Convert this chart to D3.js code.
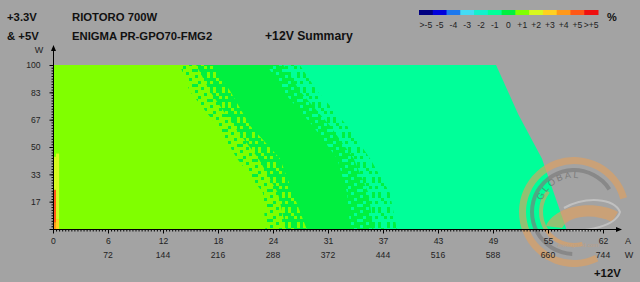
<!DOCTYPE html>
<html>
<head>
<meta charset="utf-8">
<script src="https://cdn.jsdelivr.net/npm/d3@7"></script>
<style>
  body { margin: 0; background: #a3a3a3; }
  svg { display: block; }
</style>
</head>
<body>
<div class="chart"></div>
<script>
// +12V axis tick labels (amps on top row, watts below)
var ampLabels = ["0", "6", "12", "18", "24", "31", "37", "43", "49", "55", "62"];
var wattLabels = ["", "72", "144", "216", "288", "372", "444", "516", "588", "660", "744"];
// +3.3V & +5V axis
var minorLabels = ["", "17", "33", "50", "67", "83", "100"];

// legend: deviation classes (%)
var devLabels = [">-5", "-5", "-4", "-3", "-2", "-1", "0", "+1", "+2", "+3", "+4", "+5", ">+5"];
var devColors = ["#000080", "#0000dc", "#1c78ee", "#44dcf4", "#14f0cc", "#00ff99", "#00f040",
                 "#80ff00", "#d8f820", "#ffd020", "#ff9818", "#ff5818", "#f01010"];

// zone boundaries read per row (row = +3.3V&+5V load, values = +12V load in W)
var rowLoad       = [0,   22,  43,  63,  84,  100];
var plusOneEnd    = [278, 275, 241, 215, 179, 166];
var zeroStart     = [332, 314, 297, 258, 232, 209];
var zeroEnd       = [389, 385, 372, 340, 301, 280];
var minusOneStart = [450, 441, 415, 385, 346, 323];

// max +12V load per row (combined power limit)
var envLoad = [0,   43,  70,  100];
var envMax  = [672, 640, 609, 580];

// hot cells at near-zero +12V load
var hotCol  = [0, 0, 0, 4, 4];
var hotFrom = [0, 4, 24, 0, 6];
var hotTo   = [4, 24, 44, 6, 46];
var hotDev  = ["+4", "+5", "+2", "+3", "+2"];

var width = 640, height = 282;
var colorOf = d3.scaleOrdinal().domain(devLabels).range(devColors);

var x = d3.scaleLinear().domain([0, 720]).range([53, 603]);
var y = d3.scaleLinear().domain([0, 100]).range([229, 65]);

var svg = d3.select('.chart').append('svg')
    .attr('width', width)
    .attr('height', height);

svg.append('rect')
    .attr('width', width)
    .attr('height', height)
    .attr('fill', '#a3a3a3');

// dither patterns for the transition bands
var defs = svg.append('defs');
var sparseCells = [[0, 0], [3, 1], [1, 2], [4, 3], [2, 4], [0, 3]];
var denseCells = [[1, 0], [4, 0], [2, 1], [0, 2], [3, 2], [1, 4], [4, 4]];
function dither(id, base, dot, cells) {
  var p = defs.append('pattern')
      .attr('id', id)
      .attr('patternUnits', 'userSpaceOnUse')
      .attr('width', 15).attr('height', 15);
  p.append('rect').attr('width', 15).attr('height', 15).attr('fill', base);
  cells.forEach(function(c) {
    p.append('rect')
        .attr('x', c[0] * 3).attr('y', c[1] * 3)
        .attr('width', 3).attr('height', 3)
        .attr('fill', dot);
  });
}
dither('a1', colorOf('+1'), colorOf('0'), sparseCells);
dither('a2', colorOf('0'), colorOf('+1'), denseCells);
dither('b1', colorOf('0'), colorOf('-1'), sparseCells);
dither('b2', colorOf('-1'), colorOf('0'), denseCells);

var rows = rowLoad.map(function(l, i) {
  return {load: l, p1: plusOneEnd[i], z0: zeroStart[i], z1: zeroEnd[i], m1: minusOneStart[i]};
});
var env = envLoad.map(function(l, i) { return {load: l, max: envMax[i]}; });

function zone(hi) {
  return d3.area()
    .y(function(d) { return y(d.load); })
    .x0(x(0))
    .x1(function(d) { return x(hi(d)); });
}

var heat = svg.append('g');
heat.append('path').attr('d', zone(function(d) { return d.max; })(env)).attr('fill', colorOf('-1'));
heat.append('path').attr('d', zone(function(d) { return d.m1; })(rows)).attr('fill', 'url(#b2)');
heat.append('path').attr('d', zone(function(d) { return (d.z1 + d.m1) / 2; })(rows)).attr('fill', 'url(#b1)');
heat.append('path').attr('d', zone(function(d) { return d.z1; })(rows)).attr('fill', colorOf('0'));
heat.append('path').attr('d', zone(function(d) { return d.z0; })(rows)).attr('fill', 'url(#a2)');
heat.append('path').attr('d', zone(function(d) { return (d.p1 + d.z0) / 2; })(rows)).attr('fill', 'url(#a1)');
heat.append('path').attr('d', zone(function(d) { return d.p1; })(rows)).attr('fill', colorOf('+1'));

heat.selectAll('.hot')
  .data(hotCol)
  .enter().append('rect')
    .attr('class', 'hot')
    .attr('x', function(d) { return x(d); })
    .attr('width', x(4) - x(0))
    .attr('y', function(d, i) { return y(hotTo[i]); })
    .attr('height', function(d, i) { return y(hotFrom[i]) - y(hotTo[i]); })
    .attr('fill', function(d, i) { return colorOf(hotDev[i]); });

// watermark
var wm = svg.append('g')
    .attr('transform', 'translate(574, 212)')
    .attr('opacity', 0.65);
wm.append('path')
    .attr('d', d3.arc().innerRadius(48).outerRadius(55).startAngle(-3.6).endAngle(1.3)())
    .attr('fill', '#e0a060');
wm.append('path')
    .attr('d', d3.arc().innerRadius(40).outerRadius(44).startAngle(-3.1).endAngle(1.0)())
    .attr('fill', '#7a7a7a');
wm.append('path')
    .attr('d', d3.arc().innerRadius(31).outerRadius(35).startAngle(-3.4).endAngle(-0.9)())
    .attr('fill', '#e0a060');
wm.append('path')
    .attr('id', 'wmArc')
    .attr('d', 'M -34,0 A 34,34 0 0,1 22,-26')
    .attr('fill', 'none');
wm.append('text')
    .attr('font-family', 'Liberation Sans, Arial, sans-serif')
    .attr('font-size', 9)
    .attr('letter-spacing', 2)
    .attr('fill', '#666')
  .append('textPath')
    .attr('href', '#wmArc')
    .attr('startOffset', '15%')
    .text('GLOBAL');
wm.append('path')
    .attr('d', 'M -28,14 C -18,-8 22,-12 44,0 L 38,10 C 22,2 -4,2 -12,16 Z')
    .attr('fill', '#e0a060');
wm.append('path')
    .attr('d', 'M -10,-4 C 12,-16 40,-14 46,0 C 42,14 12,20 -4,18')
    .attr('fill', 'none')
    .attr('stroke', '#d0d0d0')
    .attr('stroke-width', 2);
wm.append('text')
    .attr('x', 4).attr('y', 35)
    .attr('text-anchor', 'middle')
    .attr('font-family', 'Liberation Sans, Arial, sans-serif')
    .attr('font-size', 6)
    .attr('fill', '#c8a07a')
    .text('www.gecid.com');

// axes
var labelFont = 'Liberation Sans, Arial, sans-serif';
var axisG = svg.append('g').attr('font-family', labelFont);

var xMinor = d3.axisBottom(x).tickValues(d3.range(0, 721, 4)).tickSize(2).tickFormat('');
var xMajor = d3.axisBottom(x).tickValues(d3.range(0, 721, 72)).tickSize(4)
    .tickFormat(function(d, i) { return ampLabels[i]; });

axisG.append('g').attr('transform', 'translate(0,' + (y(0) + 0.5) + ')').call(xMinor);
var gx = axisG.append('g').attr('transform', 'translate(0,' + (y(0) + 0.5) + ')').call(xMajor);
gx.selectAll('text').attr('y', 8).attr('font-size', 8.6).attr('fill', '#222');

axisG.selectAll('.wlabel')
  .data(wattLabels)
  .enter().append('text')
    .attr('class', 'wlabel')
    .attr('x', function(d, i) { return x(i * 72); })
    .attr('y', 258)
    .attr('text-anchor', 'middle')
    .attr('font-size', 8.6)
    .attr('fill', '#222')
    .text(function(d) { return d; });

var yMinor = d3.axisLeft(y).tickValues(d3.range(0, 100.1, 100 / 60)).tickSize(2).tickFormat('');
var yMajor = d3.axisLeft(y).tickValues(d3.range(0, 7).map(function(i) { return i * 100 / 6; }))
    .tickSize(4)
    .tickFormat(function(d, i) { return minorLabels[i]; });

axisG.append('g').attr('transform', 'translate(53.5,0)').call(yMinor);
var gy = axisG.append('g').attr('transform', 'translate(53.5,0)').call(yMajor);
gy.selectAll('text').attr('x', -13).attr('font-size', 8.6).attr('fill', '#222');
axisG.selectAll('.domain').remove();

// axis lines with arrows
axisG.append('line')
    .attr('x1', 53.5).attr('x2', 53.5).attr('y1', y(0) + 0.5).attr('y2', 47)
    .attr('stroke', '#000');
axisG.append('path').attr('d', 'M 53.5,45 L 51,51 L 56,51 Z').attr('fill', '#000');
axisG.append('line')
    .attr('x1', 53).attr('x2', 620).attr('y1', y(0) + 0.5).attr('y2', y(0) + 0.5)
    .attr('stroke', '#000');
axisG.append('path')
    .attr('d', 'M 622,' + (y(0) + 0.5) + ' L 616,' + (y(0) - 2) + ' L 616,' + (y(0) + 3) + ' Z')
    .attr('fill', '#000');

// unit labels
axisG.append('text').attr('x', 39).attr('y', 53).attr('text-anchor', 'middle')
    .attr('font-size', 9).attr('fill', '#222').text('W');
axisG.append('text').attr('x', 628).attr('y', 244).attr('text-anchor', 'middle')
    .attr('font-size', 9).attr('fill', '#222').text('A');
axisG.append('text').attr('x', 629).attr('y', 258).attr('text-anchor', 'middle')
    .attr('font-size', 9).attr('fill', '#222').text('W');

// titles
var title = svg.append('g')
    .attr('font-family', labelFont)
    .attr('font-weight', 'bold')
    .attr('font-size', 11.3)
    .attr('fill', '#111');
title.append('text').attr('x', 7).attr('y', 21).text('+3.3V');
title.append('text').attr('x', 7).attr('y', 40).text('& +5V');
title.append('text').attr('x', 72).attr('y', 21).text('RIOTORO 700W');
title.append('text').attr('x', 72).attr('y', 40).text('ENIGMA PR-GPO70-FMG2');
title.append('text').attr('x', 265).attr('y', 40).attr('font-size', 12.2).text('+12V Summary');
title.append('text').attr('x', 594).attr('y', 277).text('+12V');

// legend
var lx = d3.scaleBand().domain(devLabels).range([419, 598]);
var legend = svg.append('g').attr('font-family', labelFont);
legend.selectAll('rect')
  .data(devLabels)
  .enter().append('rect')
    .attr('x', function(d) { return lx(d); })
    .attr('y', 10)
    .attr('width', lx.bandwidth() + 0.5)
    .attr('height', 5)
    .attr('fill', function(d) { return colorOf(d); });
legend.selectAll('text')
  .data(devLabels)
  .enter().append('text')
    .attr('x', function(d) { return lx(d) + lx.bandwidth() / 2; })
    .attr('y', 28)
    .attr('text-anchor', 'middle')
    .attr('font-size', 8.6)
    .attr('fill', '#222')
    .text(function(d) { return d; });
legend.append('text')
    .attr('x', 607).attr('y', 21)
    .attr('font-size', 11)
    .attr('font-weight', 'bold')
    .attr('fill', '#111')
    .text('%');
</script>
</body>
</html>
